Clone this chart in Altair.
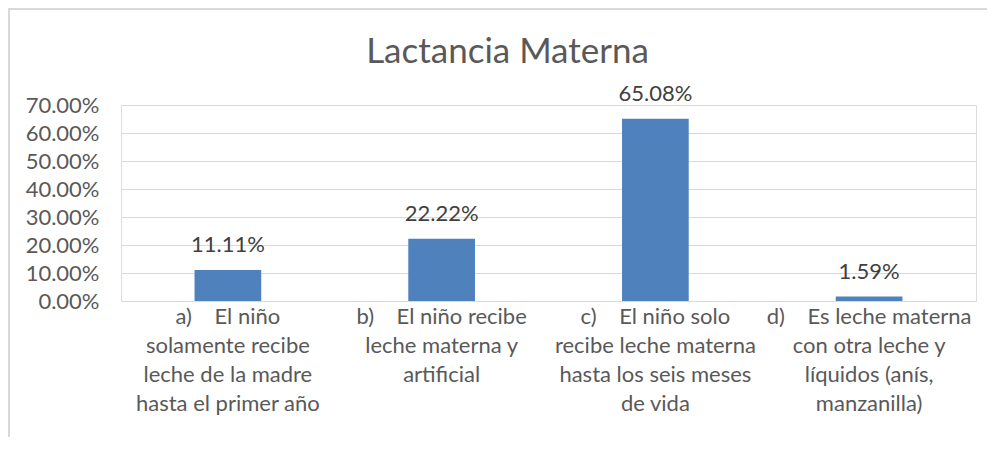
import altair as alt
import pandas as pd

NB = "\u00a0"
categories = [
    f"a){NB*3} El niño|solamente recibe|leche de la madre|hasta el primer año",
    f"b){NB*3} El niño recibe|leche materna y|artificial",
    f"c){NB*3} El niño solo|recibe leche materna|hasta los seis meses|de vida",
    f"d){NB*3} Es leche materna|con otra leche y|líquidos (anís,|manzanilla)",
]
values = [0.1111, 0.2222, 0.6508, 0.0159]
y_ticks = [0.0, 0.1, 0.2, 0.3, 0.4, 0.5, 0.6, 0.7]

df = pd.DataFrame({"cat": categories, "val": values})

FONT = "Lato"
GRAY = "#595959"
FS = 22

base = alt.Chart(df).encode(
    x=alt.X(
        "cat:N",
        sort=categories,
        title=None,
        scale=alt.Scale(paddingInner=0.688, paddingOuter=0.344),
        axis=alt.Axis(
            labelAngle=0,
            labelExpr="split(datum.label, '|')",
            labelFont=FONT,
            labelFontSize=FS,
            labelLineHeight=29.3,
            labelColor=GRAY,
            labelBaseline="top",
            labelPadding=5,
            labelLimit=0,
            labelOverlap=False,
            labelBound=False,
            ticks=False,
            domain=False,
            grid=False,
        ),
    ),
    y=alt.Y(
        "val:Q",
        title=None,
        scale=alt.Scale(domain=[0, 0.7], nice=False),
        axis=alt.Axis(
            values=y_ticks,
            format=".2%",
            labelFont=FONT,
            labelFontSize=FS,
            labelColor=GRAY,
            labelPadding=22,
            ticks=False,
            domain=False,
            grid=True,
            gridColor="#d9d9d9",
            gridWidth=1,
        ),
    ),
)

bars = base.mark_bar(color="#4F81BD")
labels = base.mark_text(
    dy=-18, baseline="alphabetic", font=FONT, fontSize=FS, color="#404040"
).encode(text=alt.Text("val:Q", format=".2%"))

frame = alt.Chart(pd.DataFrame({"k": [0]})).mark_rect(
    fill=None, stroke="#d9d9d9", strokeWidth=2
).encode(
    x=alt.value(-112),
    x2=alt.value(1000),
    y=alt.value(-96),
    y2=alt.value(400),
)

chart = alt.layer(frame, bars, labels).properties(
    width=855,
    height=196,
    autosize=alt.AutoSizeParams(type="none"),
    padding={"left": 113, "top": 97, "right": 11, "bottom": 136},
    title=alt.TitleParams(
        "Lactancia Materna",
        font=FONT,
        fontSize=35,
        fontWeight="normal",
        color=GRAY,
        anchor="middle",
        dx=-41,
        baseline="alphabetic",
        offset=-90,
    ),
).configure_view(stroke=None).configure(background="white")

chart.save("out.html", embed_options={"renderer": "svg", "actions": False})
